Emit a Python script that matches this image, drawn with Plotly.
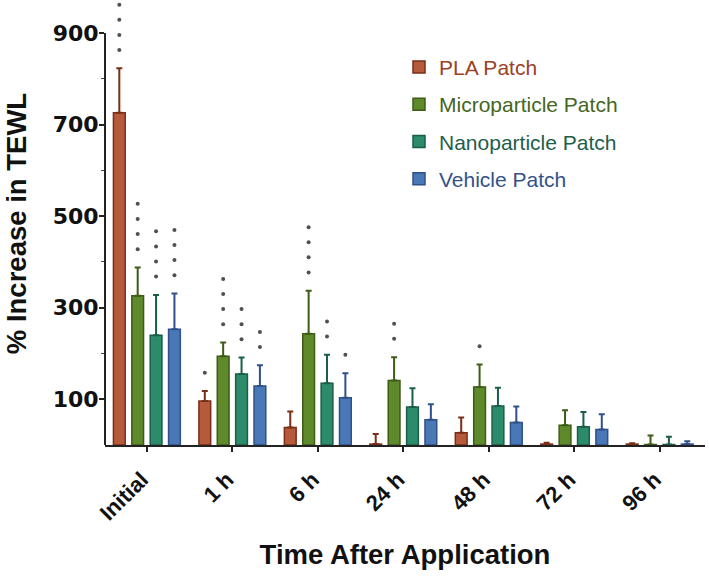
import plotly.graph_objects as go

categories = ["Initial", "1 h", "6 h", "24 h", "48 h", "72 h", "96 h"]

pla = [726, 96, 38, 2, 27, 2, 2]
pla_err = [97, 22, 35, 22, 33, 3, 2]
pla_sig = [4, 1, 0, 0, 0, 0, 0]

micro = [326, 194, 243, 141, 127, 43, 1]
micro_err = [62, 30, 94, 51, 49, 33, 20]
micro_sig = [4, 4, 4, 2, 1, 0, 0]

nano = [240, 155, 135, 83, 85, 40, 1]
nano_err = [88, 36, 62, 41, 40, 32, 17]
nano_sig = [4, 3, 2, 0, 0, 0, 0]

vehicle = [253, 129, 103, 55, 49, 34, 2]
vehicle_err = [78, 45, 54, 34, 35, 33, 6]
vehicle_sig = [4, 2, 1, 0, 0, 0, 0]

y_ticks = [100, 300, 500, 700, 900]

series_names = ["PLA Patch", "Microparticle Patch", "Nanoparticle Patch", "Vehicle Patch"]
fills = ["#B65A3C", "#5E8A2C", "#2C8B6B", "#4A77B6"]
edges = ["#7A2E17", "#3D5C16", "#1A5E47", "#2F5088"]
text_colors = ["#9A4126", "#45661C", "#1E5E4C", "#34528A"]

FONT = "Liberation Sans, Arial, sans-serif"
TICKFONT = "DejaVu Sans, Liberation Sans, sans-serif"

fig = go.Figure()

all_vals = [pla, micro, nano, vehicle]
all_errs = [pla_err, micro_err, nano_err, vehicle_err]
all_sigs = [pla_sig, micro_sig, nano_sig, vehicle_sig]

for name, vals, errs, fill, edge, tc in zip(series_names, all_vals, all_errs, fills, edges, text_colors):
    fig.add_trace(go.Bar(
        x=categories, y=vals,
        name=f"<span style='color:{tc}'>{name}</span>",
        legendgroup=name,
        offsetgroup=name,
        marker=dict(color=fill, line=dict(color=edge, width=1.5)),
        error_y=dict(type="data", symmetric=False, array=errs,
                     arrayminus=[0] * len(errs), color=edge, thickness=2, width=3),
    ))

# significance asterisks stacked above each error bar
for name, vals, errs, sigs in zip(series_names, all_vals, all_errs, all_sigs):
    xs, ys = [], []
    for c, v, e, n in zip(categories, vals, errs, sigs):
        for k in range(n):
            xs.append(c)
            ys.append(v + e + 40 + 33 * k)
    fig.add_trace(go.Scatter(
        x=xs, y=ys, mode="markers",
        marker=dict(symbol="circle", size=4, color="#505050"),
        offsetgroup=name, showlegend=False, cliponaxis=False, hoverinfo="skip",
    ))

# y axis line only spans up to the top labelled tick
fig.add_shape(type="line", xref="paper", yref="y", x0=0, x1=0, y0=0, y1=max(y_ticks),
              line=dict(color="#222", width=2))

fig.update_layout(
    width=709, height=581,
    paper_bgcolor="white", plot_bgcolor="white",
    margin=dict(l=105, r=4, t=2, b=136),
    barmode="group", bargap=0.14, bargroupgap=0.36,
    scattermode="group", scattergap=0.14,
    font=dict(family=FONT, color="#111"),
    legend=dict(
        x=0.49, y=0.899, xanchor="left", yanchor="top",
        font=dict(family=FONT, size=21),
        tracegroupgap=7, bgcolor="rgba(0,0,0,0)",
    ),
    xaxis=dict(
        range=[-0.49, 6.53], automargin=False,
        showline=True, linecolor="#222", linewidth=2,
        ticks="outside", ticklen=5, tickwidth=1.5, tickcolor="#222",
        tickangle=-45, ticklabelstandoff=6, ticklabelshift=-5,
        tickfont=dict(family=FONT, size=22, weight="bold", color="#111"),
        title=dict(text="Time After Application",
                   font=dict(family=FONT, size=27.5, weight="bold", color="#111"),
                   standoff=20),
        showgrid=False, zeroline=False,
    ),
    yaxis=dict(
        range=[0, 968], automargin=False,
        tickvals=y_ticks,
        showline=False,
        ticks="outside", ticklen=5, tickwidth=1.5, tickcolor="#222",
        ticklabelstandoff=-4,
        minor=dict(ticks="outside", ticklen=3, tickwidth=1.2, tickcolor="#444",
                   tickvals=[200, 400, 600, 800]),
        tickfont=dict(family=TICKFONT, size=22, weight="bold", color="#111"),
        title=dict(text="% Increase in TEWL",
                   font=dict(family=FONT, size=27.5, weight="bold", color="#111"),
                   standoff=18),
        showgrid=False, zeroline=False,
    ),
)

fig.write_html("out.html", config={"displayModeBar": False},
               post_script="document.body.style.margin='0px';")
